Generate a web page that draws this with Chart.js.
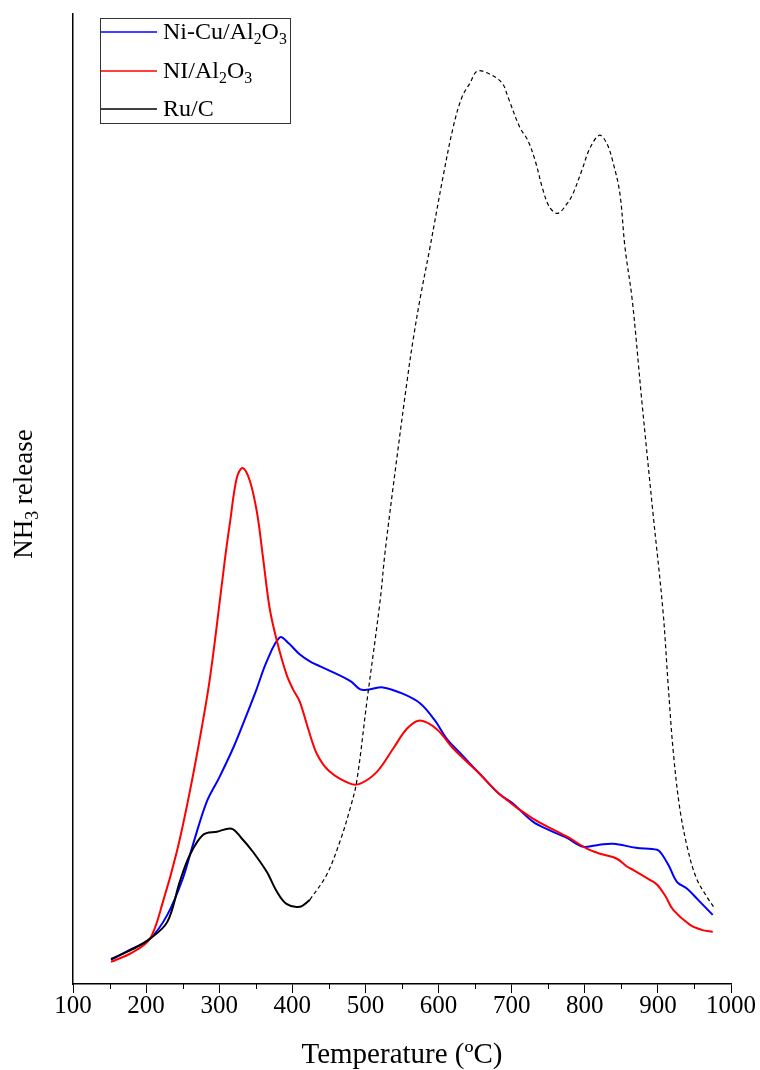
<!DOCTYPE html>
<html>
<head>
<meta charset="utf-8">
<script src="https://cdn.jsdelivr.net/npm/chart.js@4.4.1/dist/chart.umd.min.js"></script>
<style>
  html, body { margin: 0; padding: 0; background: #fff; }
  #wrap { width: 760px; height: 1070px; }
</style>
</head>
<body>
<div id="wrap"><canvas id="myChart" width="760" height="1070"></canvas></div>
<script>
// Ni-Cu/Al2O3 (blue)
const niCuT = [152, 175, 205, 229, 250, 264, 283, 300, 320, 335, 350, 365, 383, 395, 410, 424, 450, 480, 493, 505, 524, 550, 575, 595, 611, 630, 660, 684, 700, 729, 750, 775, 798, 820, 839, 870, 899, 905, 915, 926, 940, 955, 975];
const niCuY = [2.4, 3.3, 4.5, 6.9, 10.5, 13.9, 18.2, 20.6, 23.7, 26.4, 29.2, 32.2, 34.6, 34.0, 32.9, 32.2, 31.3, 30.2, 29.4, 29.4, 29.6, 29.0, 28.0, 26.3, 24.5, 23.0, 20.7, 18.9, 18.1, 16.2, 15.4, 14.6, 13.7, 13.9, 14.0, 13.6, 13.4, 13.0, 11.8, 10.2, 9.5, 8.4, 6.9];

// NI/Al2O3 (red)
const niT = [152, 180, 205, 223, 242, 257, 271, 285, 294, 308, 315, 324, 332, 342, 352, 360, 369, 379, 392, 401, 410, 422, 434, 451, 479, 493, 516, 538, 557, 575, 598, 620, 653, 684, 729, 776, 803, 821, 844, 858, 866, 889, 899, 910, 921, 944, 960, 975];
const niY = [2.2, 3.1, 4.5, 8.2, 13.2, 18.2, 23.5, 29.4, 34.2, 42.5, 46.2, 50.5, 51.5, 50.2, 46.9, 42.5, 37.5, 34.2, 30.9, 29.4, 28.2, 25.4, 22.9, 21.2, 20.0, 20.0, 21.2, 23.5, 25.5, 26.3, 25.4, 23.5, 21.2, 18.9, 16.5, 14.7, 13.5, 13.0, 12.5, 11.7, 11.4, 10.4, 9.9, 8.8, 7.4, 5.9, 5.4, 5.2];

// Ru/C (black) - solid low temperature part, dashed above ~420 C
const ruSolidT = [152, 182, 205, 229, 246, 260, 278, 297, 317, 330, 346, 365, 379, 392, 410, 424];
const ruSolidY = [2.5, 3.5, 4.5, 6.2, 10.2, 12.9, 14.9, 15.2, 15.5, 14.6, 13.2, 11.2, 9.2, 8.0, 7.7, 8.4];
const ruDashT = [424, 447, 465, 479, 488, 502, 520, 527, 543, 557, 565, 575, 588, 606, 620, 632, 643, 653, 670, 687, 695, 711, 722, 732, 743, 752, 763, 776, 784, 796, 807, 820, 830, 839, 848, 855, 865, 878, 893, 907, 914, 921, 930, 941, 953, 967, 978];
const ruDashY = [8.4, 10.9, 14.2, 17.5, 20.2, 28.2, 38.2, 43.2, 52.5, 60.2, 64.2, 68.5, 73.4, 80.5, 85.5, 88.5, 89.9, 91.1, 90.8, 89.9, 88.5, 85.5, 84.2, 82.2, 79.2, 77.5, 76.9, 77.9, 78.9, 81.2, 83.4, 84.7, 83.9, 81.9, 78.9, 73.5, 68.2, 58.2, 47.2, 37.2, 29.9, 23.2, 17.5, 13.4, 10.5, 8.7, 7.5];

const xTicks = [100, 200, 300, 400, 500, 600, 700, 800, 900, 1000];
const xMinorTicks = [150, 250, 350, 450, 550, 650, 750, 850, 950];

const serif = '"Liberation Serif", "Times New Roman", serif';

function toPoints(xs, ys) {
    return xs.map((x, i) => ({ x: x, y: ys[i] }));
}

// draws text with subscript parts, returns width
function richText(ctx, parts, x, y, size, measureOnly) {
    let cx = x;
    parts.forEach(p => {
        const s = p.sub ? size * 0.66 : size;
        ctx.font = s + 'px ' + serif;
        if (!measureOnly) ctx.fillText(p.t, cx, p.sub ? y + size * 0.3 : y);
        cx += ctx.measureText(p.t).width;
    });
    return cx - x;
}

const legendItems = [
    { color: '#0000ff', parts: [{ t: 'Ni-Cu/Al' }, { t: '2', sub: true }, { t: 'O' }, { t: '3', sub: true }] },
    { color: '#ff0000', parts: [{ t: 'NI/Al' }, { t: '2', sub: true }, { t: 'O' }, { t: '3', sub: true }] },
    { color: '#000000', parts: [{ t: 'Ru/C' }] }
];

const extras = {
    id: 'extras',
    afterDraw: chart => {
        const ctx = chart.ctx;
        const xs = chart.scales.x;
        const area = chart.chartArea;
        ctx.save();

        // minor ticks
        ctx.strokeStyle = '#000';
        ctx.lineWidth = 1;
        xMinorTicks.forEach(v => {
            const px = Math.round(xs.getPixelForValue(v)) + 0.5;
            ctx.beginPath();
            ctx.moveTo(px, area.bottom);
            ctx.lineTo(px, area.bottom + 5);
            ctx.stroke();
        });

        // y title
        ctx.fillStyle = '#000';
        ctx.textBaseline = 'middle';
        ctx.textAlign = 'left';
        const yParts = [{ t: 'NH' }, { t: '3', sub: true }, { t: ' release' }];
        const w = richText(ctx, yParts, 0, 0, 27, true);
        ctx.save();
        ctx.translate(25, 494);
        ctx.rotate(-Math.PI / 2);
        richText(ctx, yParts, -w / 2, 0, 27);
        ctx.restore();

        // legend box
        const lx = 100, ly = 18, lw = 190, lh = 105;
        ctx.strokeStyle = '#333';
        ctx.lineWidth = 1;
        ctx.strokeRect(lx + 0.5, ly + 0.5, lw, lh);
        const rows = [32, 71, 109];
        legendItems.forEach((item, i) => {
            ctx.strokeStyle = item.color;
            ctx.lineWidth = 1.5;
            ctx.beginPath();
            ctx.moveTo(lx + 1, rows[i]);
            ctx.lineTo(lx + 57, rows[i]);
            ctx.stroke();
            ctx.fillStyle = '#000';
            richText(ctx, item.parts, lx + 63, rows[i] + 1, 24);
        });
        ctx.restore();
    }
};

const canvas = document.getElementById('myChart');

new Chart(canvas, {
    type: 'line',
    data: {
        datasets: [
            {
                label: 'Ru/C',
                data: toPoints(ruDashT, ruDashY),
                borderColor: '#000',
                borderWidth: 1.2,
                borderDash: [4, 3],
                pointRadius: 0,
                tension: 0.35
            },
            {
                label: 'Ru/C solid',
                data: toPoints(ruSolidT, ruSolidY),
                borderColor: '#000',
                borderWidth: 2,
                pointRadius: 0,
                tension: 0.35
            },
            {
                label: 'NI/Al2O3',
                data: toPoints(niT, niY),
                borderColor: '#ff0000',
                borderWidth: 2,
                pointRadius: 0,
                tension: 0.35
            },
            {
                label: 'Ni-Cu/Al2O3',
                data: toPoints(niCuT, niCuY),
                borderColor: '#0000ff',
                borderWidth: 2,
                pointRadius: 0,
                tension: 0.35
            }
        ]
    },
    options: {
        responsive: false,
        animation: false,
        devicePixelRatio: 1,
        layout: {
            padding: { left: 73, right: 29, top: 14, bottom: 0 }
        },
        plugins: {
            legend: { display: false },
            tooltip: { enabled: false }
        },
        scales: {
            x: {
                type: 'linear',
                min: 100,
                max: 1000,
                afterBuildTicks: axis => {
                    axis.ticks = xTicks.map(v => ({ value: v }));
                },
                border: { display: true, color: '#000', width: 1.5 },
                grid: {
                    drawOnChartArea: false,
                    drawTicks: true,
                    tickLength: 9,
                    color: '#000',
                    tickColor: '#000'
                },
                ticks: {
                    color: '#000',
                    padding: 1,
                    maxRotation: 0,
                    font: { family: serif, size: 25, lineHeight: 1 },
                    callback: v => String(v)
                },
                title: {
                    display: true,
                    text: 'Temperature (ºC)',
                    color: '#000',
                    font: { family: serif, size: 29, lineHeight: 1 },
                    padding: { top: 21, bottom: 0 }
                }
            },
            y: {
                min: 0,
                max: 96.8,
                border: { display: true, color: '#000', width: 1.5 },
                grid: { display: false, drawTicks: false },
                ticks: { display: false }
            }
        }
    },
    plugins: [extras]
});
</script>
</body>
</html>
